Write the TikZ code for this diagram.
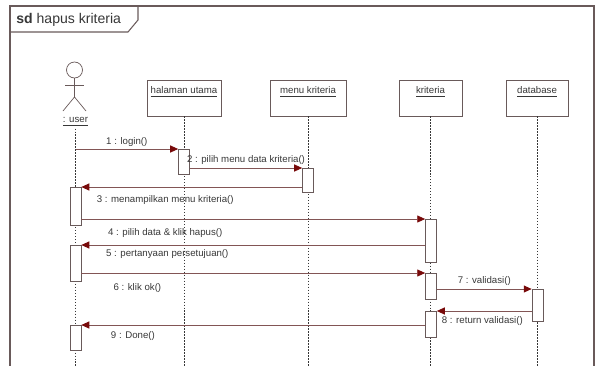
\documentclass[tikz,border=0pt]{standalone}
\usepackage{fontspec}
\setmainfont{Liberation Sans}
\usetikzlibrary{arrows.meta}

\definecolor{umlline}{RGB}{130,85,85}
\definecolor{umlarrow}{RGB}{120,10,10}
\definecolor{umlbox}{RGB}{105,90,90}
\definecolor{umltext}{RGB}{55,55,55}

\tikzset{
  obj/.style={draw=umlbox, fill=white, text=umltext, font=\fontsize{5.5}{6}\selectfont,
    inner xsep=1pt, inner ysep=2.6pt, text height=5pt, text depth=10.2pt, minimum height=0.72cm},
  act/.style={draw=umlbox, fill=white, minimum width=0.22cm, inner sep=0pt, anchor=north},
  lifeline/.style={draw=umltext, dash pattern=on 0.8pt off 0.9pt, line width=0.5pt},
  msg/.style={draw=umlline, line width=0.5pt, -{Triangle[length=4.5pt,width=4pt,color=umlarrow]}},
  lbl/.style={text=umltext, font=\fontsize{5.5}{6}\selectfont, inner sep=0pt},
}

\begin{document}
\begin{tikzpicture}[x=0.02cm, y=-0.02cm]
    \useasboundingbox (0,0) rectangle (601,365);
    \clip (0,0) rectangle (601,365);
    % 枠
    \draw[umlbox, line width=0.6pt] (10,372) -- (10,6) -- (594,6) -- (594,372);
    \draw[umlbox, line width=0.6pt] (10,32) -- (128,32) -- (138,20) -- (138,6);
    \node[anchor=west, text=umltext, font=\fontsize{8}{9}\selectfont, inner sep=0pt] (title) at (16,20) {\textbf{sd} hapus kriteria};

    % アクター
    \draw[umlbox, fill=white] (74.5,70) circle (0.16cm);
    \draw[umlbox] (74.5,78) -- (74.5,97);
    \draw[umlbox] (65,85) -- (84,85);
    \draw[umlbox] (63,111) -- (74.5,97) -- (86,111);
    \node[lbl] (user) at (75.5,122) {\underline{: user}};

    % オブジェクト
    \node[obj, minimum width=1.48cm] (halaman) at (184,98) {\underline{halaman utama}};
    \node[obj, minimum width=1.52cm] (menu) at (308,98) {\underline{menu kriteria}};
    \node[obj, minimum width=1.26cm] (kriteria) at (430.5,98) {\underline{kriteria}};
    \node[obj, minimum width=1.24cm] (database) at (537,98) {\underline{database}};

    % ライフライン
    \coordinate (bottom) at (0,372);
    \draw[lifeline] ([yshift=-1pt]user.south) -- (user.south |- bottom);
    \draw[lifeline] (halaman.south) -- (halaman.south |- bottom);
    \draw[lifeline] (menu.south) -- (menu.south |- bottom);
    \draw[lifeline] (kriteria.south) -- (kriteria.south |- bottom);
    \draw[lifeline] (database.south) -- (database.south |- bottom);

    % 活性区間
    \node[act, minimum height=0.50cm] (h1) at (184,149) {};
    \node[act, minimum height=0.48cm] (m1) at (308,168) {};
    \node[act, minimum height=0.76cm] (u1) at (75.5,187) {};
    \node[act, minimum height=0.86cm] (k1) at (431,219) {};
    \node[act, minimum height=0.72cm] (u2) at (75.5,245) {};
    \node[act, minimum height=0.52cm] (k2) at (431,273) {};
    \node[act, minimum height=0.64cm] (d1) at (537.5,289) {};
    \node[act, minimum height=0.52cm] (k3) at (431,311) {};
    \node[act, minimum height=0.50cm] (u3) at (75.5,325) {};

    % メッセージ
    \draw[msg] (user.south |- h1.north) -- (h1.north west) node[lbl, above=1pt, pos=0.5] (l1) {1 : login()};
    \draw[msg] (h1.east |- m1.north) -- (m1.north west) node[lbl, above=1.5pt, pos=0.5] (l2) {2 : pilih menu data kriteria()};
    \draw[msg] (m1.west |- u1.north) -- (u1.north east) node[lbl, below=4.4pt, pos=0.62] (l3) {3 : menampilkan menu kriteria()};
    \draw[msg] (u1.east |- k1.north) -- (k1.north west) node[lbl, below=4.9pt, pos=0.244] (l4) {4 : pilih data \& klik hapus()};
    \draw[msg] (k1.west |- u2.north) -- (u2.north east) node[lbl, below=2.1pt, pos=0.75] (l5) {5 : pertanyaan persetujuan()};
    \draw[msg] (u2.east |- k2.north) -- (k2.north west) node[lbl, below=5.5pt, pos=0.163] (l6) {6 : klik ok()};
    \draw[msg] (k2.east |- d1.north) -- (d1.north west) node[lbl, above=1.5pt, pos=0.5] (l7) {7 : validasi()};
    \draw[msg] (d1.west |- k3.north) -- (k3.north east) node[lbl, below=2.7pt, pos=0.52] (l8) {8 : return validasi()};
    \draw[msg] (k3.west |- u3.north) -- (u3.north east) node[lbl, below=3.2pt, pos=0.85] (l9) {9 : Done()};
\end{tikzpicture}
\end{document}
